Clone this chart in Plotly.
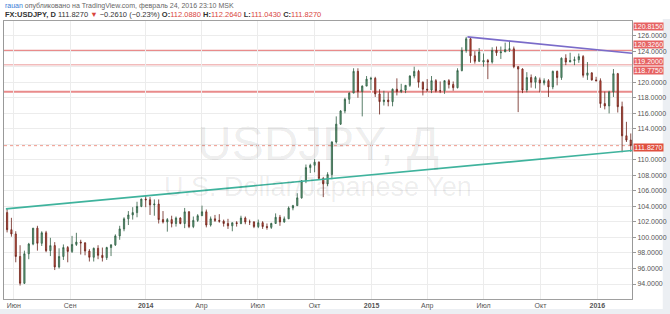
import pandas as pd
import plotly.graph_objects as go

# ---------------- data (weekly candles, USDJPY) ----------------
opens = [
    # 2013
    103.20, 101.00, 100.45, 97.55, 94.10, 97.90, 99.15, 101.20, 99.25, 100.60, 98.30,
    98.95, 96.20, 97.55, 98.70, 98.20, 99.10, 99.40, 99.30, 98.25, 97.45, 98.60,
    97.70, 97.40, 98.70, 99.05, 100.20, 101.10, 102.40, 102.90, 103.20, 104.00, 104.95,
    # 2014
    104.85, 104.20, 104.30, 102.30, 102.00, 102.30, 101.80, 102.50, 101.80, 103.30, 101.40,
    102.20, 102.80, 103.30, 101.60, 102.40, 102.20, 102.10, 101.80, 101.50, 101.90, 101.80,
    102.50, 102.00, 102.00, 101.40, 101.90, 101.40, 101.30, 101.80, 102.60, 102.00, 102.40,
    103.80, 104.10, 105.10, 107.30, 109.00, 109.30, 109.70, 107.60, 106.90, 108.10, 112.30,
    114.60, 116.30, 117.80, 118.60, 121.40, 118.80, 119.50, 120.40,
    # 2015
    120.50, 118.50, 117.50, 117.70, 117.50, 119.10, 118.80, 119.00, 119.60, 120.80, 121.40,
    120.00, 119.10, 119.00, 120.20, 118.90, 118.90, 120.20, 119.70, 119.30, 121.50, 124.10,
    125.60, 123.40, 122.70, 122.60, 122.80, 122.60, 124.10, 123.80, 123.90, 124.20, 124.30,
    122.00, 121.70, 119.00, 120.60, 120.00, 120.30, 119.90, 120.20, 119.40, 121.40, 120.60,
    123.10, 122.60, 122.80, 122.90, 123.30, 120.90, 121.20, 120.30,
    # 2016
    120.20, 117.25, 116.95, 118.75, 121.10, 116.85, 113.10, 112.55,
]
highs = [
    103.74, 102.53, 100.80, 99.00, 98.30, 99.30, 101.20, 101.50, 100.80, 100.85, 99.95,
    99.40, 98.60, 99.10, 98.90, 100.20, 100.60, 99.70, 99.40, 98.50, 98.70, 99.00,
    98.70, 98.80, 99.10, 100.40, 101.50, 102.60, 103.40, 103.90, 104.60, 105.00, 105.45,
    105.20, 104.90, 104.90, 103.40, 102.50, 102.80, 102.70, 102.60, 103.80, 103.40, 102.70,
    103.00, 104.10, 103.60, 102.70, 102.90, 103.00, 102.30, 102.40, 101.90, 102.10, 102.80,
    102.70, 102.30, 102.10, 102.30, 102.10, 101.80, 101.90, 103.10, 102.90, 102.70, 104.00,
    104.20, 105.70, 107.40, 109.40, 109.50, 110.10, 109.80, 107.80, 108.40, 112.40, 115.60,
    116.40, 118.00, 118.70, 121.80, 121.80, 119.60, 120.80, 120.70,
    120.70, 119.10, 118.90, 118.70, 119.20, 120.50, 119.80, 119.60, 120.90, 122.00, 121.60,
    120.10, 120.40, 120.80, 120.40, 120.10, 120.00, 120.40, 120.10, 121.80, 124.50, 125.85,
    125.70, 124.00, 124.40, 123.70, 123.00, 124.50, 124.60, 124.60, 125.10, 125.30, 124.60,
    122.10, 121.80, 121.30, 121.00, 120.80, 120.60, 120.50, 120.40, 121.50, 121.50, 123.20,
    123.60, 123.80, 123.30, 123.70, 123.50, 122.60, 121.30, 120.70,
    120.50, 118.80, 118.90, 121.70, 121.20, 117.50, 114.90, 113.40,
]
lows = [
    100.65, 100.10, 96.80, 93.80, 94.00, 97.20, 99.00, 98.30, 98.90, 98.10, 97.60,
    95.80, 96.00, 97.10, 96.80, 98.00, 98.90, 97.80, 97.70, 96.90, 96.90, 97.20,
    96.90, 97.10, 97.60, 98.90, 99.70, 100.80, 101.60, 102.30, 102.60, 103.90, 103.90,
    102.90, 102.80, 101.80, 101.80, 100.75, 101.30, 101.40, 101.70, 101.20, 101.20, 101.20,
    102.00, 102.80, 101.30, 101.40, 102.00, 101.90, 101.40, 101.10, 100.80, 101.40, 101.70,
    101.70, 101.60, 101.20, 101.20, 101.10, 101.00, 101.10, 101.80, 101.50, 101.90, 102.40,
    103.50, 104.10, 105.00, 107.00, 108.30, 108.40, 107.60, 105.20, 106.60, 107.50, 112.10,
    114.50, 116.00, 117.20, 118.60, 118.00, 115.60, 119.50, 119.00,
    118.10, 115.85, 117.00, 116.90, 116.90, 118.30, 118.60, 118.60, 119.40, 120.50, 119.30,
    118.30, 118.70, 118.60, 118.70, 118.60, 118.50, 119.20, 118.90, 119.20, 121.40, 123.80,
    122.50, 122.40, 122.60, 122.00, 120.40, 122.40, 123.40, 123.00, 123.90, 123.90, 121.80,
    116.15, 118.60, 118.70, 119.30, 119.20, 118.70, 119.60, 118.10, 119.10, 119.60, 120.30,
    122.20, 122.60, 122.20, 122.50, 120.60, 120.30, 120.20, 120.10,
    116.70, 116.50, 115.98, 118.10, 116.10, 110.98, 112.30, 111.04,
]
closes = [
    101.00, 100.45, 97.55, 94.10, 97.90, 99.15, 101.20, 99.25, 100.60, 98.30, 98.95,
    96.20, 97.55, 98.70, 98.20, 99.10, 99.40, 99.30, 98.25, 97.45, 98.60, 97.70,
    97.40, 98.70, 99.05, 100.20, 101.10, 102.40, 102.90, 103.20, 104.00, 104.95, 104.85,
    104.20, 104.30, 102.30, 102.00, 102.30, 101.80, 102.50, 101.80, 103.30, 101.40, 102.20,
    102.80, 103.30, 101.60, 102.40, 102.20, 102.10, 101.80, 101.50, 101.90, 101.80, 102.50,
    102.00, 102.00, 101.40, 101.90, 101.40, 101.30, 101.80, 102.60, 102.00, 102.40, 103.80,
    104.10, 105.10, 107.30, 109.00, 109.30, 109.70, 107.60, 106.90, 108.10, 112.30, 114.60,
    116.30, 117.80, 118.60, 121.40, 118.80, 119.50, 120.40, 120.50,
    118.50, 117.50, 117.70, 117.50, 119.10, 118.80, 119.00, 119.60, 120.80, 121.40, 120.00,
    119.10, 119.00, 120.20, 118.90, 118.90, 120.20, 119.70, 119.30, 121.50, 124.10, 125.60,
    123.40, 122.70, 123.90, 122.80, 122.60, 124.10, 123.80, 123.90, 124.20, 124.30, 122.00,
    121.70, 119.00, 120.60, 120.00, 120.60, 119.90, 120.20, 119.40, 121.40, 120.60, 123.10,
    122.60, 122.80, 122.90, 123.30, 120.90, 121.20, 120.30, 120.20,
    117.25, 116.95, 118.75, 121.10, 116.85, 113.10, 112.55, 111.83,
]
first_week_mid = "2013-05-22"   # Wednesday of the first weekly candle

# horizontal levels and trend lines
levels_strong = [124.06, 118.775]
levels_light = [122.26]
last_price = 111.827
support_dates = ["2013-05-20", "2016-02-26"]
support_prices = [103.68, 111.2]
resist_dates = ["2015-06-05", "2016-02-26"]
resist_prices = [125.85, 123.73]

# axis labels
x_tick_dates = ["2013-06-02", "2013-09-01", "2014-01-01", "2014-04-01", "2014-07-01",
                "2014-10-01", "2015-01-01", "2015-04-01", "2015-07-01", "2015-10-01",
                "2016-01-01"]
x_tick_text = ["Июн", "Сен", "<b>2014</b>", "Апр", "Июл", "Окт", "<b>2015</b>",
               "Апр", "Июл", "Окт", "<b>2016</b>"]
y_tick_vals = [94, 96, 98, 100, 102, 104, 106, 108, 110, 114, 116, 118, 120, 124, 126]
price_tags = ["120.8150", "120.3260", "119.2000", "118.7750"]
last_tag = "111.8270"

# ---------------- figure ----------------
W, H = 670, 314
L, R, T, B = 3, 34, 21, 15
PW, PH = W - L - R, H - T - B
def px(xp): return (xp - L) / PW
def py(yp): return (H - B - yp) / PH

dates = pd.date_range(first_week_mid, periods=len(opens), freq="7D")
FONT = "Liberation Sans, Arial, sans-serif"

fig = go.Figure()
fig.add_trace(go.Candlestick(
    x=dates, open=opens, high=highs, low=lows, close=closes,
    increasing=dict(fillcolor="#6ba583", line=dict(color="#2e5e42", width=0.8)),
    decreasing=dict(fillcolor="#d75442", line=dict(color="#6b2219", width=0.8)),
    whiskerwidth=0, showlegend=False, hoverinfo="skip",
))
fig.add_trace(go.Scatter(x=support_dates, y=support_prices, mode="lines",
                         line=dict(color="#3fb39d", width=1.6), showlegend=False, hoverinfo="skip"))
fig.add_trace(go.Scatter(x=resist_dates, y=resist_prices, mode="lines",
                         line=dict(color="#7a6bc9", width=1.6), showlegend=False, hoverinfo="skip"))

shapes = []
for lv in levels_strong:
    shapes.append(dict(type="line", xref="paper", x0=0, x1=1, yref="y", y0=lv, y1=lv,
                       line=dict(color="rgba(226,100,100,0.75)", width=2), layer="below"))
for lv in levels_light:
    shapes.append(dict(type="line", xref="paper", x0=0, x1=1, yref="y", y0=lv, y1=lv,
                       line=dict(color="rgba(230,120,120,0.5)", width=1.5), layer="below"))
shapes.append(dict(type="line", xref="paper", x0=0, x1=1, yref="y", y0=last_price, y1=last_price,
                   line=dict(color="rgba(232,110,90,0.7)", width=1, dash="dot"), layer="below"))
# outer light-gray frame strips
shapes.append(dict(type="rect", xref="paper", yref="paper", x0=px(-5), x1=px(W + 5),
                   y0=py(H + 5), y1=py(309), fillcolor="#eceff3", line=dict(width=0), layer="below"))
shapes.append(dict(type="rect", xref="paper", yref="paper", x0=px(667), x1=px(W + 5),
                   y0=py(H + 5), y1=py(19), fillcolor="#eceff3", line=dict(width=0), layer="below"))

ann = []
red = "#d9463e"
ann.append(dict(xref="paper", yref="paper", x=px(2), y=py(6), xanchor="left", yanchor="middle",
                showarrow=False, font=dict(family=FONT, size=7, color="#666"),
                text='<span style="color:#3a7bd5">rauan</span> опубликовано на TradingView.com, февраль 24, 2016 23:10 MSK'))
ann.append(dict(xref="paper", yref="paper", x=px(2), y=py(15), xanchor="left", yanchor="middle",
                showarrow=False, font=dict(family=FONT, size=7.5, color="#333"),
                text=('<b>FX:USDJPY, D</b> 111.8270 <span style="color:%s">▼</span> −0.2610 (−0.23%%) '
                      '<b>O:</b><span style="color:%s">112.0880</span> <b>H:</b><span style="color:%s">112.2640</span> '
                      '<b>L:</b><span style="color:%s">111.0430</span> <b>C:</b><span style="color:%s">111.8270</span>')
                     % (red, red, red, red, red)))
ann.append(dict(xref="paper", yref="paper", x=px(320), y=py(143), xanchor="center", yanchor="middle",
                showarrow=False, font=dict(family=FONT, size=48, color="rgba(0,0,0,0.08)"),
                text="USDJPY, Д"))
ann.append(dict(xref="paper", yref="paper", x=px(320), y=py(187), xanchor="center", yanchor="middle",
                showarrow=False, font=dict(family=FONT, size=27, color="rgba(0,0,0,0.08)"),
                text="U.S. Dollar/Japanese Yen"))
for txt, yc in zip(price_tags, [27, 44.5, 61, 70]):
    ann.append(dict(xref="paper", yref="paper", x=px(637), y=py(yc), xanchor="left", yanchor="middle",
                    showarrow=False, bgcolor="#e66363", width=29, height=7, borderpad=0,
                    font=dict(family=FONT, size=7, color="white"), text=txt))
ann.append(dict(xref="paper", yref="paper", x=px(637), y=py(147), xanchor="left", yanchor="middle",
                showarrow=False, bgcolor="#e0503f", width=29, height=7, borderpad=0,
                font=dict(family=FONT, size=7, color="white"), text=last_tag))

fig.update_layout(
    width=W, height=H, margin=dict(l=L, r=R, t=T, b=B),
    paper_bgcolor="white", plot_bgcolor="white",
    font=dict(family=FONT, size=7, color="#555"),
    shapes=shapes, annotations=ann, showlegend=False, boxgap=0.6,
    xaxis=dict(type="date", range=["2013-05-17", "2016-02-26"], rangeslider=dict(visible=False),
               tickvals=x_tick_dates, ticktext=x_tick_text, tickfont=dict(size=7, color="#555"),
               showgrid=True, gridcolor="#ececec", gridwidth=1,
               showline=True, linecolor="#a0a0a0", mirror=True, ticks="", zeroline=False),
    yaxis=dict(side="right", range=[92.07, 127.89], tickvals=y_tick_vals, tickformat=".4f",
               tickfont=dict(size=7, color="#555"), ticks="outside", ticklen=3, tickcolor="#999",
               showgrid=True, gridcolor="#ececec", gridwidth=1,
               minor=dict(dtick=2, tick0=0, showgrid=True, gridcolor="#ececec", gridwidth=1),
               showline=True, linecolor="#999", mirror=True, zeroline=False),
)

fig.write_html("out.html")
